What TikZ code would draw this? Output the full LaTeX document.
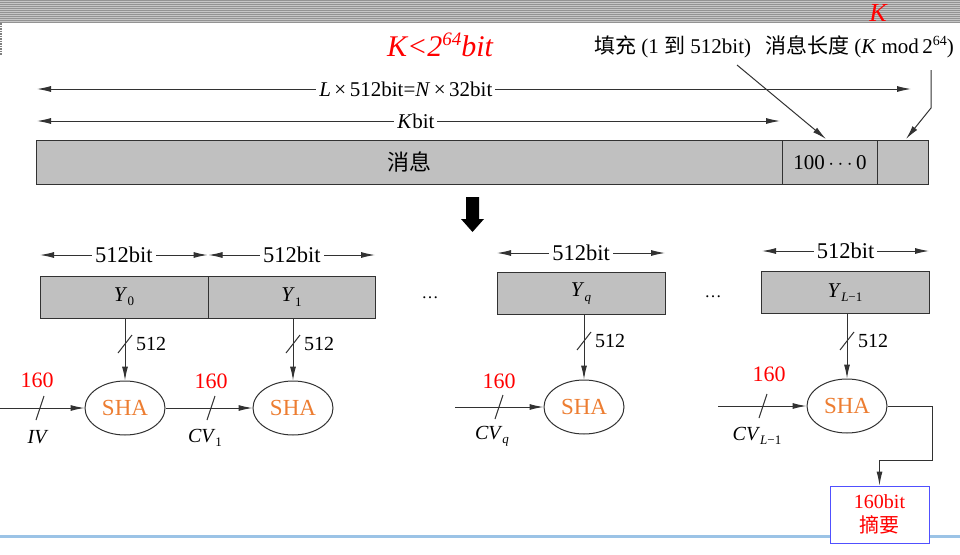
\documentclass[tikz,border=0pt]{standalone}
\usepackage{fontspec}
\setmainfont{Liberation Serif}
\newfontfamily\cjk{Noto Sans CJK SC}
\usetikzlibrary{arrows.meta,shapes.geometric}
\definecolor{boxgray}{RGB}{192,192,192}
\definecolor{shaorange}{RGB}{237,125,49}
\definecolor{linegray}{RGB}{50,50,50}
\definecolor{lineblue}{RGB}{155,195,230}
\definecolor{boxblue}{RGB}{80,80,255}
\newcommand\lo[1]{\raisebox{-0.45ex}{\fontsize{13}{13}\selectfont #1}}
\newcommand\hi[1]{\raisebox{0.8ex}{\fontsize{14}{14}\selectfont #1}}
\newcommand\hiB[1]{\raisebox{0.8ex}{\fontsize{19}{19}\selectfont #1}}
\tikzset{
  txt/.style={font=\fontsize{20}{22}\selectfont, inner sep=1pt},
  toptxt/.style={font=\fontsize{21}{22}\selectfont, inner sep=1pt},
  redtxt/.style={font=\fontsize{22}{24}\selectfont, text=red, inner sep=0pt},
  block/.style={draw=linegray, line width=1pt, fill=boxgray, minimum height=42pt, inner sep=0pt, font=\fontsize{21}{22}\selectfont},
  sha/.style={ellipse, draw=linegray, line width=1pt, minimum width=80pt, minimum height=54pt, inner sep=0pt, text=shaorange, font=\fontsize{23}{24}\selectfont},
  arr/.style={draw=linegray, line width=1pt, -{Latex[length=14pt,width=6pt]}},
  dim/.style={draw=linegray, line width=1pt, {Latex[length=14pt,width=6pt]}-{Latex[length=14pt,width=6pt]}},
  lbl/.style={fill=white, font=\fontsize{21}{22}\selectfont, inner sep=3pt},
  lblb/.style={fill=white, font=\fontsize{22.5}{24}\selectfont, inner sep=3pt},
  slash/.style={draw=linegray, line width=1pt},
}
\begin{document}
\begin{tikzpicture}[x=1pt,y=-1pt]
\useasboundingbox (0,0) rectangle (960,554);
\fill[white] (0,0) rectangle (960,554);
% header band
\fill[gray!45] (0,0) rectangle (960,23);
\foreach \yy in {0.5,2.5,...,22.5} \draw[gray!85, line width=0.8pt] (0,\yy) -- (960,\yy);
\draw[gray, densely dotted, line width=1.5pt] (1,23) -- (1,55);
% bottom blue line
\draw[lineblue, line width=3pt] (0,536) -- (960,536);

% titles
\node[font=\fontsize{30}{32}\selectfont\itshape, text=red] (klim) at (440,45) {K<2\hiB{64}bit};
\node[font=\fontsize{26}{28}\selectfont\itshape, text=red] (ktop) at (878,13) {K};
\node[toptxt, anchor=west] (pad) at (593,47) {{\cjk 填充} (1 {\cjk 到} 512bit)};
\node[toptxt, anchor=west] (len) at (764,47) {{\cjk 消息长度} (\textit{K} mod\,2\hi{64})};

% dimension arrows
\coordinate (la) at (37,89); \coordinate (lb) at (911,89);
\draw[dim] (la) -- node[lbl, pos=0.422] (ltxt) {\textit{L}\,×\,512bit=\textit{N}\,×\,32bit} (lb);
\coordinate (ka) at (37,121); \coordinate (kb) at (780,121);
\draw[dim] (ka) -- node[lbl, pos=0.51] (ktxt) {\textit{K}bit} (kb);

% message bar
\node[block, minimum width=746pt, minimum height=44pt, anchor=north west, font=\fontsize{22}{24}\selectfont] (msg) at (36,140) {\cjk 消息};
\node[block, minimum width=95pt, minimum height=44pt, anchor=north west] (padbox) at (782,140) {100\,$\cdots$\,0};
\node[block, minimum width=51pt, minimum height=44pt, anchor=north west] (lenbox) at (877,140) {};

% pointer arrows
\coordinate (pa) at (737,65); \coordinate (pb) at (826,139);
\draw[arr] (pa) -- (pb);
\coordinate (qa) at (931,70); \coordinate (qm) at (931,108); \coordinate (qb) at (906,139);
\draw[arr] (qa) -- (qm) -- (qb);

% big down arrow
\fill[black] (466,197) -- (479,197) -- (479,219) -- (484,219) -- (472.5,232) -- (461,219) -- (466,219) -- cycle;

% blocks
\node[block, minimum width=168pt] (y0) at (124,297) {\textit{Y}\lo{0}};
\node[block, minimum width=167pt] (y1) at (291.5,297) {\textit{Y}\lo{1}};
\node[block, minimum width=168pt] (yq) at (581,293.5) {\textit{Y}\lo{\textit{q}}};
\node[block, minimum width=168pt] (yl) at (845,292.5) {\textit{Y}\lo{\textit{L}−1}};
\node[font=\fontsize{17}{17}\selectfont] (dots1) at (430,298) {…};
\node[font=\fontsize{17}{17}\selectfont] (dots2) at (713,297) {…};

% 512bit dims
\coordinate (d0a) at (40,255); \coordinate (d0b) at (207.5,255);
\coordinate (d1a) at (208.5,255); \coordinate (d1b) at (375,255);
\coordinate (dqa) at (497,253); \coordinate (dqb) at (665,253);
\coordinate (dla) at (762,251); \coordinate (dlb) at (929,251);
\draw[dim] (d0a) -- node[lblb] {512bit} (d0b);
\draw[dim] (d1a) -- node[lblb] {512bit} (d1b);
\draw[dim] (dqa) -- node[lblb] {512bit} (dqb);
\draw[dim] (dla) -- node[lblb] {512bit} (dlb);

% SHA ellipses
\node[sha] (s0) at (125,408) {SHA};
\node[sha] (s1) at (293,408) {SHA};
\node[sha] (sq) at (584,407) {SHA};
\node[sha] (sl) at (847,406) {SHA};

% vertical inputs
\draw[arr] (y0.south -| s0.north) -- (s0.north);
\draw[arr] (y1.south -| s1.north) -- (s1.north);
\draw[arr] (yq.south -| sq.north) -- (sq.north);
\draw[arr] (yl.south -| sl.north) -- (sl.north);
\foreach \n/\yy in {s0/344,s1/344,sq/341,sl/341}{
  \draw[slash] ([xshift=-7pt]\n.north |- 0,\yy) ++(0,9) -- ++(14,-18);
  \node[txt, anchor=west] at ([xshift=10pt]\n.north |- 0,\yy) {512};
}

% chaining inputs
\coordinate (iv) at (0,408);
\coordinate (cq) at (455,407);
\coordinate (cl) at (718,406);
\draw[arr] (iv) -- (s0.west);
\draw[arr] (s0.east) -- (s1.west);
\draw[arr] (cq) -- (sq.west);
\draw[arr] (cl) -- (sl.west);
\draw[slash] (36,420) -- (44,396);
\draw[slash] (207,420) -- (215,396);
\draw[slash] (495,419) -- (503,395);
\draw[slash] (759,418) -- (767,394);
\node[redtxt] (r0) at (37,380) {160};
\node[redtxt] (r1) at (211,381) {160};
\node[redtxt] (rq) at (499,381) {160};
\node[redtxt] (rl) at (769,374) {160};
\node[txt] (tiv) at (38,437) {\textit{IV}};
\node[txt] (tc1) at (205,438) {\textit{CV}\lo{1}};
\node[txt] (tcq) at (492,436) {\textit{CV}\lo{\textit{q}}};
\node[txt] (tcl) at (757,436) {\textit{CV}\lo{\textit{L}−1}};

% output
\node[draw=boxblue, line width=1pt, fill=white, minimum width=99pt, minimum height=57pt, align=center, text=red, font=\fontsize{20}{24}\selectfont, inner sep=0pt] (out) at (879.5,514.5) {160bit\\{\cjk 摘要}};
\coordinate (oc) at (932,460);
\draw[arr] (sl.east) -| (oc) -| (out.north);
\end{tikzpicture}
\end{document}
